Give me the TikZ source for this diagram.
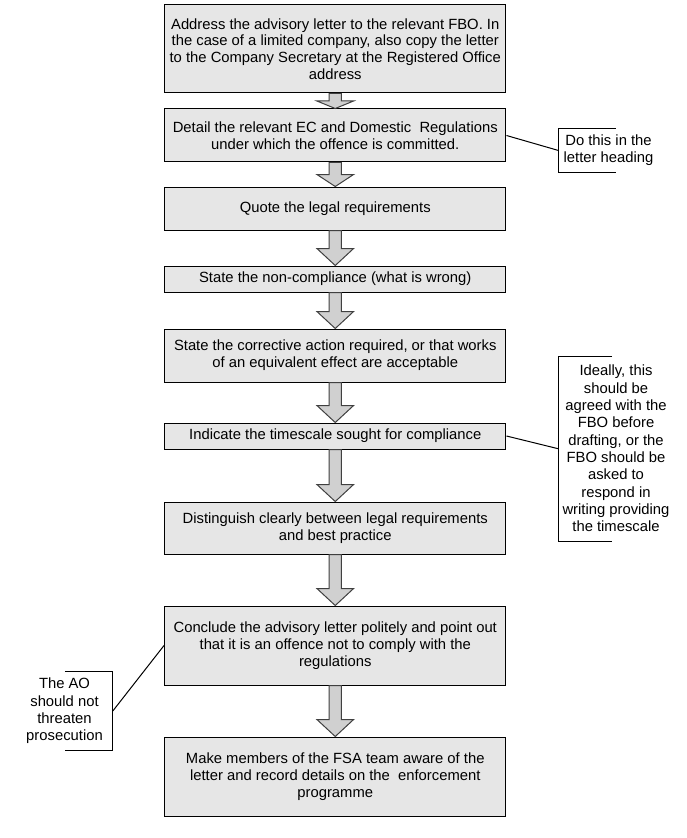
\documentclass[tikz,border=0pt]{standalone}
\usepackage{fontspec}
\setmainfont{Liberation Sans}
\usepackage{tikz}
\usetikzlibrary{calc}
\tikzset{every picture/.style={line width=0.75pt}}
\tikzset{
	stepbox/.style={draw={rgb, 255:red, 0; green, 0; blue, 0 }, fill={rgb, 255:red, 230; green, 230; blue, 230 }, minimum width=256.1pt, inner sep=0pt, align=center, font=\fontsize{11.1}{12.5}\selectfont},
	notetext/.style={inner sep=0pt, align=center, font=\fontsize{11.1}{13}\selectfont},
	bracket/.style={draw={rgb, 255:red, 0; green, 0; blue, 0 }},
	blockarrow/.style={draw={rgb, 255:red, 64; green, 64; blue, 64 }, fill={rgb, 255:red, 208; green, 208; blue, 208 },
		to path={let \p1=(\tikztostart), \p2=(\tikztotarget), \n1={min(12.75pt,veclen(\x2-\x1,\y2-\y1)/2)}, \p3=($(\tikztotarget)!\n1!(\tikztostart)$) in
			(\x1-4.65pt,\y1) -- (\x1-4.65pt,\y3) -- (\x1-13.75pt,\y3) -- (\x2,\y2) -- (\x1+13.75pt,\y3) -- (\x1+4.65pt,\y3) -- (\x1+4.65pt,\y1) -- cycle}}
}

\begin{document}
\begin{tikzpicture}[x=0.75pt,y=0.75pt,yscale=-1,xscale=1]
		%set diagram left start at 0, and has height of 838
		\path [fill=white] (0,0) rectangle (686,838);
		
		% Step Boxes
		\node [stepbox, minimum height=66pt] (s1) at (335.25,49) {Address the advisory letter to the relevant FBO. In\\the case of a limited company, also copy the letter\\to the Company Secretary at the Registered Office\\address};
		\node [stepbox, minimum height=39.75pt] (s2) at (335.25,135.5) {Detail the relevant EC and Domestic \ Regulations\\under which the offence is committed.};
		\node [stepbox, minimum height=32.25pt] (s3) at (335.25,208.5) {Quote the legal requirements};
		\node [stepbox, minimum height=19.5pt] (s4) at (335.25,279) {State the non-compliance (what is wrong)};
		\node [stepbox, minimum height=39.75pt] (s5) at (335.25,355.5) {State the corrective action required, or that works\\of an equivalent effect are acceptable};
		\node [stepbox, minimum height=19.5pt] (s6) at (335.25,436) {Indicate the timescale sought for compliance};
		\node [stepbox, minimum height=39pt] (s7) at (335.25,528) {Distinguish clearly between legal requirements\\and best practice};
		\node [stepbox, minimum height=59.25pt] (s8) at (335.25,645.5) {Conclude the advisory letter politely and point out\\that it is an offence not to comply with the\\regulations};
		\node [stepbox, minimum height=59.25pt] (s9) at (335.25,776.5) {Make members of the FSA team aware of the\\letter and record details on the \ enforcement\\programme};
		
		% Block Arrows
		\path [blockarrow] (s1.south) to (s2.north);
		\path [blockarrow] (s2.south) to (s3.north);
		\path [blockarrow] (s3.south) to (s4.north);
		\path [blockarrow] (s4.south) to (s5.north);
		\path [blockarrow] (s5.south) to (s6.north);
		\path [blockarrow] (s6.south) to (s7.north);
		\path [blockarrow] (s7.south) to (s8.north);
		\path [blockarrow] (s8.south) to (s9.north);
		
		% Text Node
		\node [notetext, minimum width=74.25pt, minimum height=32.25pt] (n1) at (608.5,150.5) {Do this in the\\letter heading};
		% Text Node
		\node [notetext, minimum width=86pt, minimum height=138pt] (n2) at (616,448.7) {Ideally, this\\should be\\agreed with the\\FBO before\\drafting, or the\\FBO should be\\asked to\\respond in\\writing providing\\the timescale};
		% Text Node
		\node [notetext, minimum width=71.7pt, minimum height=58.3pt] (n3) at (64.5,711) {The AO\\should not\\threaten\\prosecution};
		
		% Brackets
		\draw [bracket] ([xshift=42.75pt]n1.north west) -- (n1.north west) -- (n1.south west) -- ([xshift=42.75pt]n1.south west) ;
		\draw [bracket] ([xshift=40.5pt]n2.north west) -- (n2.north west) -- (n2.south west) -- ([xshift=40.5pt]n2.south west) ;
		\draw [bracket] ([xshift=-36pt]n3.north east) -- (n3.north east) -- (n3.south east) -- ([xshift=-36pt]n3.south east) ;
		
		% Straight Lines
		\draw (s2.east) -- (n1.west) ;
		\draw (s6.east) -- (n2.west) ;
		\draw (s8.west) -- (n3.east) ;
		
\end{tikzpicture}
\end{document}
